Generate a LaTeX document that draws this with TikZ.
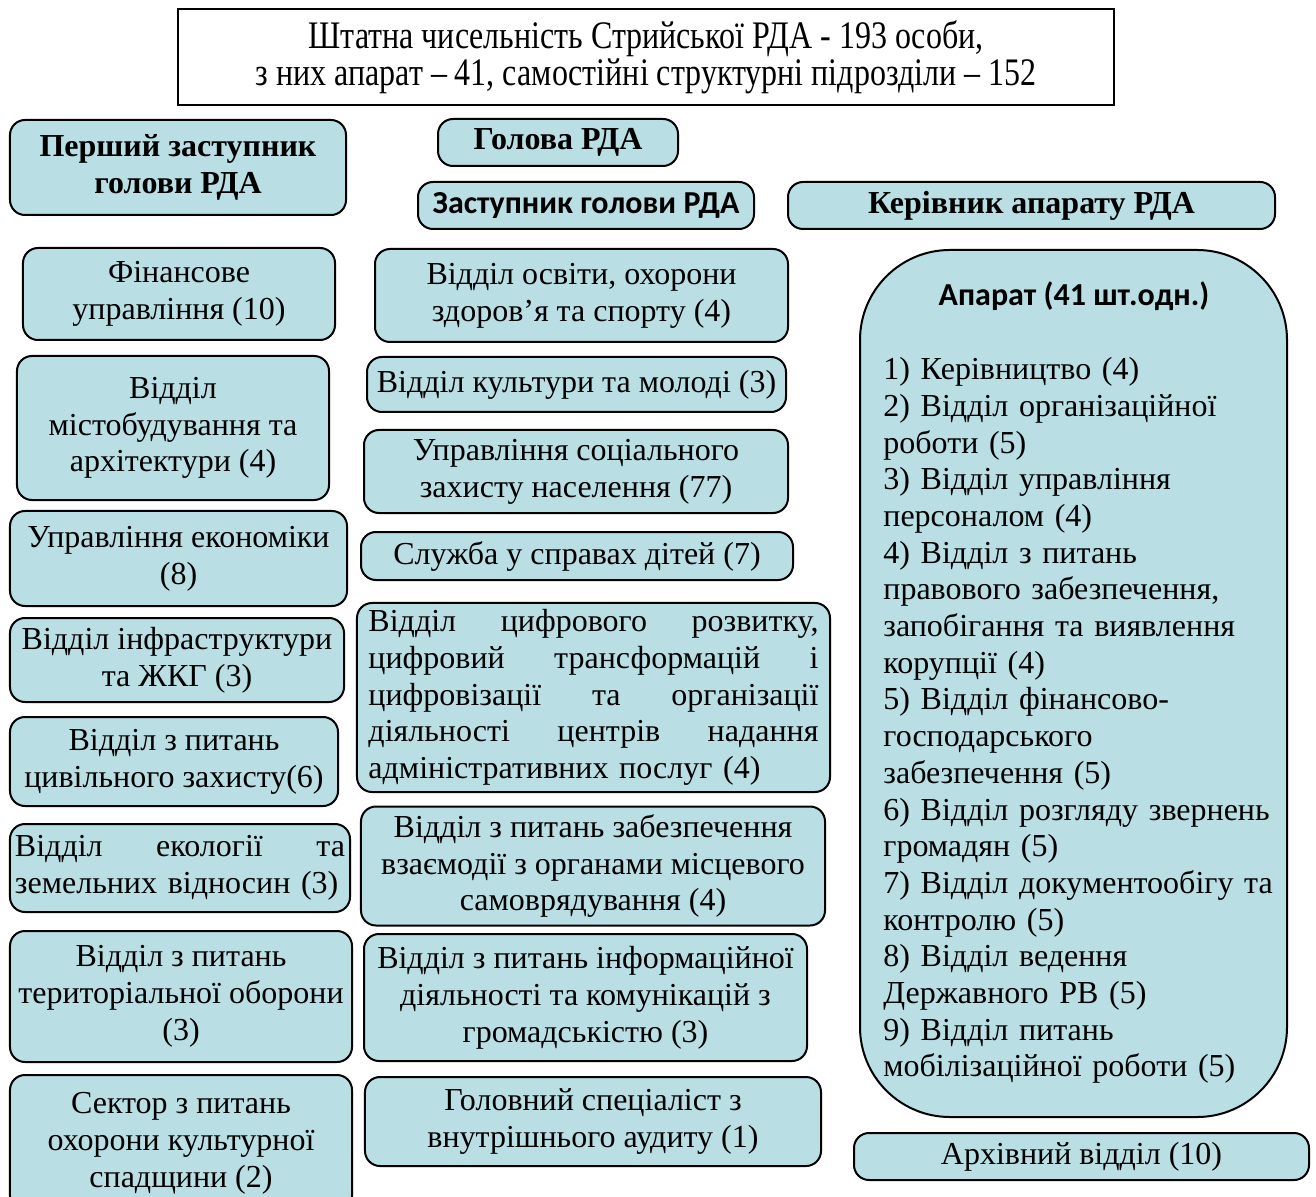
\documentclass[tikz,border=0pt]{standalone}
\usepackage{fontspec}
\setmainfont{Liberation Serif}
\newfontfamily\calibri{Carlito}
\newfontfamily\narrowserif[FakeStretch=0.82]{Liberation Serif}
\definecolor{boxfill}{RGB}{185,223,228}
\tikzset{
  unitbox/.style={draw,fill=boxfill,line width=1bp,rounded corners=7.5bp,inner sep=0pt,
    align=center,font=\fontsize{16bp}{18.4bp}\selectfont},
  headbox/.style={unitbox,font=\fontsize{16bp}{18.4bp}\selectfont\bfseries},
}
\begin{document}
\begin{tikzpicture}[x=0.5bp,y=-0.5bp]
\useasboundingbox (0,0) rectangle (1316,1197);
\clip (0,0) rectangle (1316,1197);
%%
\node (total) at (646,57) [draw,line width=0.8bp,inner sep=0pt,minimum width=468bp,minimum height=48bp,align=center,font=\narrowserif\fontsize{19.5bp}{17.5bp}\selectfont] {Штатна чисельність Стрийської РДА - 193 особи,\\з них апарат – 41, самостійні структурні підрозділи – 152};
%
\node (first_dep) at (178,167.5) [headbox,minimum width=168bp,minimum height=47.5bp] {Перший заступник\\голови РДА};
\node (head) at (558,142.5) [headbox,minimum width=120bp,minimum height=23.5bp] {\raisebox{-1.5bp}{Голова РДА}};
\node (dep) at (586,205.5) [unitbox,minimum width=168bp,minimum height=23.5bp,font=\calibri\bfseries\fontsize{16bp}{17bp}\selectfont] {\raisebox{-1bp}{Заступник голови РДА}};
\node (chief_staff) at (1031.5,205.5) [headbox,minimum width=243.5bp,minimum height=23.5bp] {\raisebox{-1bp}{Керівник апарату РДА}};
%% left column
\node (finance) at (179,294) [unitbox,minimum width=156bp,minimum height=46bp] {Фінансове\\управління (10)};
\node (urban) at (173,428) [unitbox,minimum width=156bp,minimum height=72bp] {Відділ\\містобудування та\\архітектури (4)};
\node (economy) at (178.5,558.5) [unitbox,minimum width=168.5bp,minimum height=47.5bp] {Управління економіки\\(8)};
\node (infra) at (177,660) [unitbox,minimum width=167bp,minimum height=42bp] {Відділ інфраструктури\\та ЖКГ (3)};
\node (civil) at (174,761.5) [unitbox,minimum width=164bp,minimum height=44.5bp] {Відділ з питань\\цивільного захисту(6)};
\node (ecology) at (180,868) [unitbox,minimum width=170bp,minimum height=44bp,text width=165bp,align=left] {Відділ\hfill екології\hfill та\\земельних відносин (3)};
\node (defence) at (181,996.5) [unitbox,minimum width=171bp,minimum height=65.5bp] {Відділ з питань\\територіальної оборони\\(3)};
\node (heritage) at (181,1143) [unitbox,minimum width=171bp,minimum height=68bp] {Сектор з питань\\охорони культурної\\спадщини (2)};
%% middle column
\node (education) at (581.5,295.5) [unitbox,minimum width=206.5bp,minimum height=46.5bp] {Відділ освіти, охорони\\здоров’я та спорту (4)};
\node (culture) at (576.5,384.5) [unitbox,minimum width=209.5bp,minimum height=27.5bp] {Відділ культури та молоді (3)};
\node (social) at (576,471.5) [unitbox,minimum width=212bp,minimum height=41.5bp] {Управління соціального\\захисту населення (77)};
\node (children) at (577,556) [unitbox,minimum width=216bp,minimum height=24bp] {Служба у справах дітей (7)};
\node (digital) at (593.5,697.5) [unitbox,minimum width=236.5bp,minimum height=94.5bp,text width=225bp,align=left] {Відділ\hfill цифрового\hfill розвитку,\\цифровий\hfill трансформацій\hfill і\\цифровізації\hfill та\hfill організації\\діяльності\hfill центрів\hfill надання\\адміністративних послуг (4)};
\node (local) at (593,866) [unitbox,minimum width=232bp,minimum height=59.5bp] {Відділ з питань забезпечення\\взаємодії з органами місцевого\\самоврядування (4)};
\node (inform) at (585.5,997.5) [unitbox,minimum width=221.5bp,minimum height=63.5bp] {Відділ з питань інформаційної\\діяльності та комунікацій з\\громадськістю (3)};
\node (audit) at (593,1121.5) [unitbox,minimum width=228bp,minimum height=44.5bp] {Головний спеціаліст з\\внутрішнього аудиту (1)};
%% right column
\node (staff) at (1073.5,683.5) [unitbox,rounded corners=45bp,minimum width=213.5bp,minimum height=433.5bp] {};
\node (staff_title) at (1074,296) [font=\calibri\bfseries\fontsize{16bp}{17bp}\selectfont] {Апарат (41 шт.одн.)};
\node (staff_list) at (883,357) [anchor=north west,inner sep=0pt,text width=200bp,align=left,font=\fontsize{16bp}{18.35bp}\selectfont] {1) Керівництво (4)\\2) Відділ організаційної\\роботи (5)\\3) Відділ управління\\персоналом (4)\\4) Відділ з питань\\правового забезпечення,\\запобігання та виявлення\\корупції (4)\\5) Відділ фінансово-\\господарського\\забезпечення (5)\\6) Відділ розгляду звернень\\громадян (5)\\7) Відділ документообігу та\\контролю (5)\\8) Відділ ведення\\Державного РВ (5)\\9) Відділ питань\\мобілізаційної роботи (5)};
\node (archive) at (1081.5,1156.5) [unitbox,minimum width=227.5bp,minimum height=23.5bp] {\raisebox{-1bp}{Архівний відділ (10)}};
%
\end{tikzpicture}
\end{document}
